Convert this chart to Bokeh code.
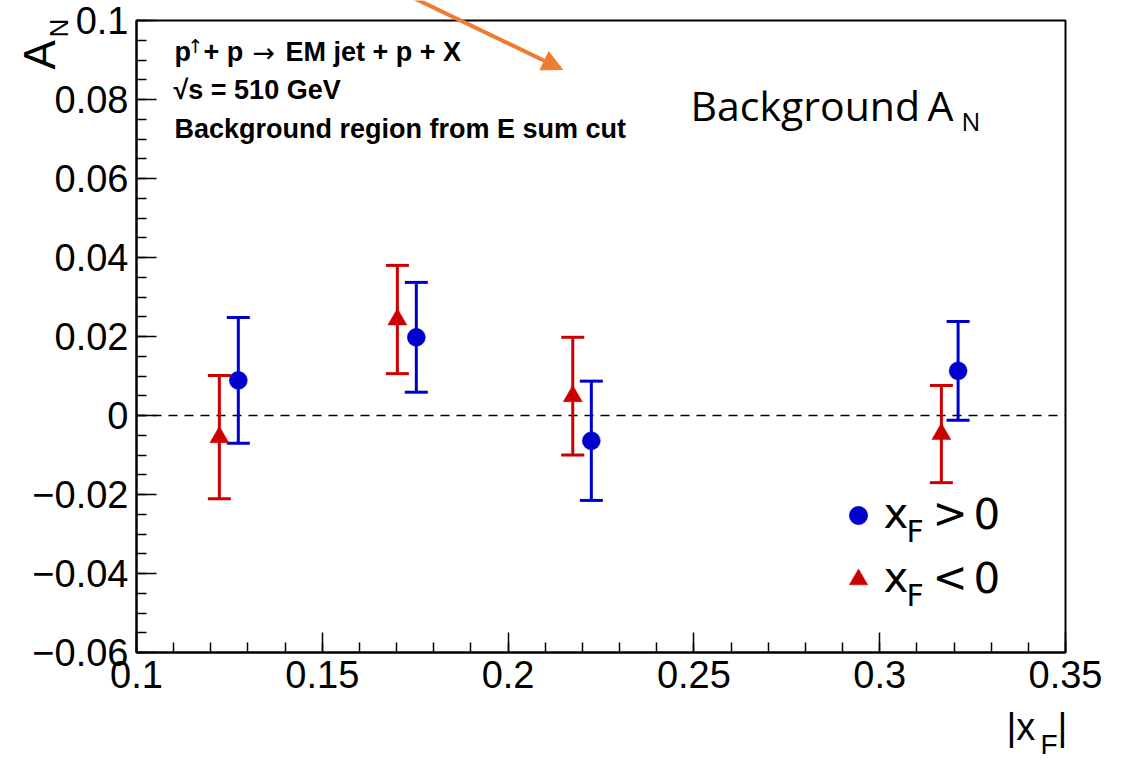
import math
from bokeh.plotting import figure
from bokeh.models import (FixedTicker, Whisker, TeeHead, Label, Arrow, LinearAxis,
                          NormalHead, Legend, LegendItem, ColumnDataSource, Range1d,
                          BoxAnnotation)
from bokeh.embed import file_html
from bokeh.resources import INLINE

# ---------------- data ----------------
x_pos = [0.1274, 0.1753, 0.2224, 0.3211]      # |xF| for xF > 0
an_pos = [0.0089, 0.0198, -0.0064, 0.0113]    # A_N for xF > 0
err_pos = [0.0159, 0.0139, 0.0151, 0.0125]

x_neg = [0.1223, 0.1702, 0.2174, 0.3166]      # |xF| for xF < 0
an_neg = [-0.0055, 0.0243, 0.0049, -0.0047]   # A_N for xF < 0
err_neg = [0.0156, 0.0137, 0.0149, 0.0123]

xticks = [0.1, 0.15, 0.2, 0.25, 0.3, 0.35]
xtick_labels = ["0.1", "0.15", "0.2", "0.25", "0.3", "0.35"]
yticks = [-0.06, -0.04, -0.02, 0.0, 0.02, 0.04, 0.06, 0.08, 0.1]
ytick_labels = ["\u22120.06", "\u22120.04", "\u22120.02", "0", "0.02", "0.04",
                "0.06", "0.08", "0.1"]

X_START, X_END = 0.1, 0.35
Y_START, Y_END = -0.06, 0.1

BLUE = "#0000cc"
RED = "#cc0000"
ORANGE = "#ED7D31"
FONT = "Liberation Sans"

# canvas size and the axes box in canvas pixels (used for placement only)
W, H = 1128, 760
FL, FR, FT, FB = 136, 1065, 20, 652


def dx(px):
    return X_START + (px - FL) * (X_END - X_START) / (FR - FL)


def dy(py):
    return Y_END - (py - FT) * (Y_END - Y_START) / (FB - FT)


p = figure(width=W, height=H, x_range=Range1d(dx(0), dx(W)), y_range=Range1d(dy(H), dy(0)),
           output_backend="svg", toolbar_location=None,
           x_axis_type=None, y_axis_type=None, min_border=0)
p.grid.visible = False
p.outline_line_color = None
p.background_fill_color = "white"
p.border_fill_color = "white"

x_minor = [round(0.1 + 0.01 * i, 3) for i in range(26)]
y_minor = [round(-0.06 + 0.005 * i, 4) for i in range(33)]

xaxis = LinearAxis(fixed_location=Y_START, bounds=(X_START, X_END))
yaxis = LinearAxis(fixed_location=X_START, bounds=(Y_START, Y_END))
for ax, ticks, labels, minor in ((xaxis, xticks, xtick_labels, x_minor),
                                 (yaxis, yticks, ytick_labels, y_minor)):
    ax.ticker = FixedTicker(ticks=ticks, minor_ticks=minor)
    ax.major_label_overrides = {v: l for v, l in zip(ticks, labels)}
    ax.axis_line_width = 2
    ax.axis_line_color = "black"
    ax.major_tick_in = 20
    ax.major_tick_out = 0
    ax.minor_tick_in = 10
    ax.minor_tick_out = 0
    ax.major_tick_line_width = 1.5
    ax.minor_tick_line_width = 1.5
    ax.major_label_text_font = FONT
    ax.major_label_text_font_size = "38px"
    ax.major_label_text_color = "black"
    ax.major_label_standoff = 8
p.add_layout(xaxis, "below")
p.add_layout(yaxis, "left")

# axes box
p.add_layout(BoxAnnotation(left=X_START, right=X_END, bottom=Y_START, top=Y_END,
                           fill_color=None, line_color="black", line_alpha=1.0,
                           line_width=2))

# zero line
p.segment(x0=[X_START], x1=[X_END], y0=[0], y1=[0], line_color="black",
          line_width=1.5, line_dash="9 7", level="underlay")

src_neg = ColumnDataSource(dict(x=x_neg, y=an_neg,
                                upper=[a + e for a, e in zip(an_neg, err_neg)],
                                lower=[a - e for a, e in zip(an_neg, err_neg)]))
src_pos = ColumnDataSource(dict(x=x_pos, y=an_pos,
                                upper=[a + e for a, e in zip(an_pos, err_pos)],
                                lower=[a - e for a, e in zip(an_pos, err_pos)]))

for src, col in ((src_neg, RED), (src_pos, BLUE)):
    w = Whisker(source=src, base="x", upper="upper", lower="lower", dimension="height",
                line_color=col, line_width=3, level="underlay",
                upper_head=TeeHead(size=23, line_color=col, line_width=3),
                lower_head=TeeHead(size=23, line_color=col, line_width=3))
    p.add_layout(w)

r_neg = p.scatter("x", "y", source=src_neg, marker="triangle", size=19,
                  fill_color=RED, line_color=RED, line_width=0.5)
r_pos = p.scatter("x", "y", source=src_pos, marker="circle", size=18,
                  fill_color=BLUE, line_color=BLUE, line_width=0.5)

legend = Legend(items=[LegendItem(label=" ", renderers=[r_pos]),
                       LegendItem(label=" ", renderers=[r_neg])],
                location=(835, H - 602), glyph_width=46, glyph_height=46, spacing=18,
                padding=0, margin=0, label_text_font_size="2px", label_height=2,
                label_width=2, label_standoff=0,
                border_line_color=None, background_fill_alpha=0)
p.add_layout(legend)

K = 0.38  # measured offset of Bokeh's alphabetic anchor, in em


def lab(text, px, py, fs, font=FONT, style="normal", angle=0.0):
    if angle == 0.0:
        py = py - K * fs
    else:
        px = px - K * fs
    p.add_layout(Label(x=dx(px), y=dy(py), text=text, text_font=font,
                       text_font_size=f"{fs}px", text_font_style=style, angle=angle,
                       text_align="left", text_baseline="alphabetic",
                       text_color="black"))


# top-left description
lab("p", 174, 62, 27, style="bold")
lab("\u2191", 187, 53, 19, font="DejaVu Sans")
lab("+ p", 203, 62, 27, style="bold")
lab("\u2192", 252, 62, 27, font="DejaVu Sans")
lab("EM jet + p + X", 285, 62, 27, style="bold")
lab("\u221as = 510 GeV", 173, 100, 27, style="bold")
lab("Background region from E sum cut", 174, 139, 27, style="bold")

# Background A_N
lab("Background", 690, 120, 41, font="Open Sans")
lab("A", 927, 120, 41, font="Open Sans")
lab("N", 961, 130, 25, font="Open Sans")

# legend texts
for py in (529, 593):
    lab("x", 883, py, 42, font="DejaVu Sans")
    lab("F", 906, py + 13, 30, font="DejaVu Sans")
    lab("0", 973, py, 42, font="DejaVu Sans")
lab(">", 932, 529, 42, font="DejaVu Sans")
lab("<", 932, 593, 42, font="DejaVu Sans")

# axis titles
lab("A", 56, 69, 44, angle=math.pi / 2)
lab("N", 68, 37, 26, angle=math.pi / 2)
lab("|x", 1006, 741, 38)
lab("F", 1040, 755, 28)
lab("|", 1057, 741, 38)

arrow = Arrow(x_start=dx(410), y_start=dy(-4), x_end=dx(562), y_end=dy(69),
              line_color=ORANGE, line_width=4,
              end=NormalHead(size=20, fill_color=ORANGE, line_color=ORANGE))
p.add_layout(arrow)

open("out.html", "w").write(file_html(p, INLINE))
